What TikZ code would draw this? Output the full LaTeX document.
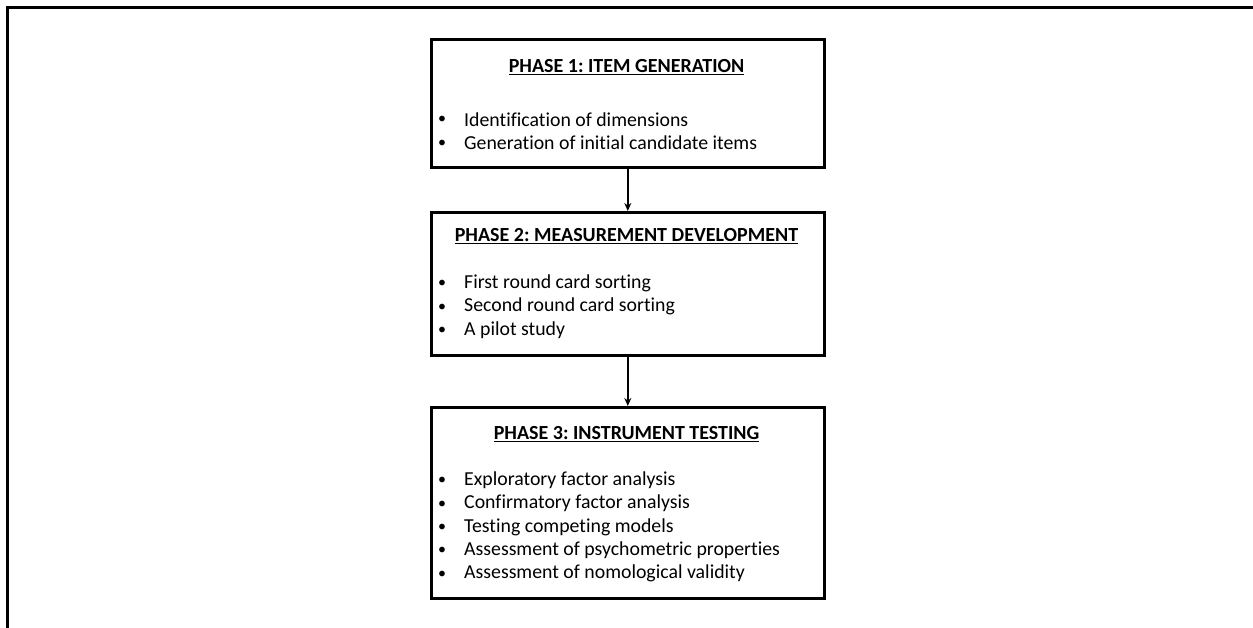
\documentclass[tikz,border=0pt]{standalone}
\usepackage{fontspec}
\setmainfont{Carlito}[Ligatures={NoCommon}]
\usetikzlibrary{shadows,arrows.meta}
\frenchspacing
\begin{document}
\begin{tikzpicture}[x=1pt,y=-1pt,
  frame/.style={line width=3pt},
  phasebox/.style={draw=black, line width=2.6pt, fill=white, anchor=north west, inner sep=0pt,
    minimum width=393pt,
    drop shadow={shadow xshift=2pt, shadow yshift=-2pt, opacity=0.25, fill=gray}},
  title/.style={font=\fontsize{20}{23}\selectfont\bfseries\frenchspacing, inner sep=0pt, anchor=center},
  item/.style={font=\fontsize{19.8}{23}\selectfont, inner sep=0pt, anchor=west},
  bul/.style={font=\fontsize{16}{18}\selectfont, inner sep=0pt, anchor=center},
  conn/.style={line width=2pt, -{Stealth[length=8pt,width=7pt]}}]
\useasboundingbox (0,0) rectangle (1253,628);
\coordinate (fa) at (7.5,628);
\coordinate (fb) at (7.5,7.5);
\coordinate (fc) at (1253,7.5);
\draw[frame] (fa) -- (fb) -- (fc);

\node[phasebox, minimum height=128pt] (p1) at (430,38) {};
\node[phasebox, minimum height=143pt] (p2) at (430,211) {};
\node[phasebox, minimum height=191pt] (p3) at (430,406) {};

\node[title] (t1) at (626.5,67) {\underline{PHASE 1: ITEM GENERATION}};
\node[title] (t2) at (626.5,236) {\underline{PHASE 2: MEASUREMENT DEVELOPMENT}};
\node[title] (t3) at (626.5,434) {\underline{PHASE 3: INSTRUMENT TESTING}};

\foreach \txt [count=\i] in {Identification of dimensions, Generation of initial candidate items}{
  \node[bul] (b1\i) at (442,{97+23.3*\i}) {•};
  \node[item] (a1\i) at (464,{96+23.3*\i}) {\txt};
}
\foreach \txt [count=\i] in {First round card sorting, Second round card sorting, A pilot study}{
  \node[bul] (b2\i) at (442,{261+23.3*\i}) {•};
  \node[item] (a2\i) at (464,{260+23.3*\i}) {\txt};
}
\foreach \txt [count=\i] in {Exploratory factor analysis, Confirmatory factor analysis, Testing competing models, Assessment of psychometric properties, Assessment of nomological validity}{
  \node[bul] (b3\i) at (442,{458+23.3*\i}) {•};
  \node[item] (a3\i) at (464,{457+23.3*\i}) {\txt};
}

\draw[conn] (p1.south) -- (p2.north);
\draw[conn] (p2.south) -- (p3.north);
\end{tikzpicture}
\end{document}
